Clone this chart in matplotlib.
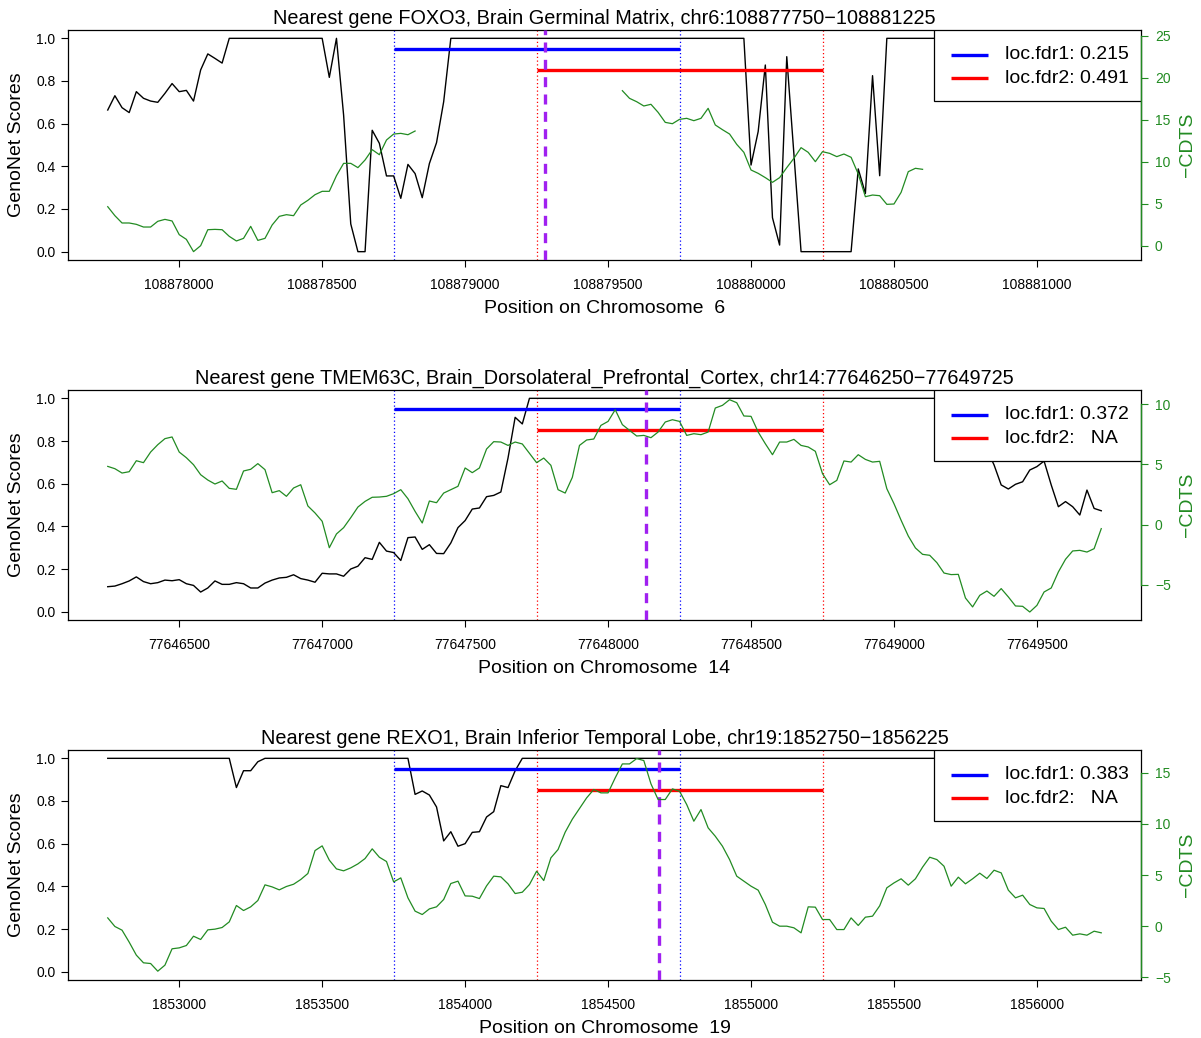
import numpy as np
import matplotlib
matplotlib.use('Agg')
import matplotlib.pyplot as plt
from matplotlib.patches import Rectangle

plt.rcParams['font.family'] = ['Liberation Sans', 'DejaVu Sans']

nan = np.nan
step = 25  # bp between scored positions

# ---- panel 1: FOXO3 ----
foxo3_start = 108877750
foxo3_snp = 108879281
foxo3_fdr = ['0.215', '0.491']
foxo3_geno = [
    0.664, 0.731, 0.675, 0.652, 0.750, 0.719, 0.706, 0.700, 0.742, 0.788,
    0.750, 0.756, 0.706, 0.852, 0.927, 0.906, 0.884, 1.0, 1.0, 1.0,
    1.0, 1.0, 1.0, 1.0, 1.0, 1.0, 1.0, 1.0, 1.0, 1.0,
    1.0, 0.817, 1.0, 0.640, 0.130, 0.0, 0.0, 0.569, 0.508, 0.355,
    0.355, 0.250, 0.409, 0.366, 0.253, 0.413, 0.511, 0.703, 1.0, 1.0,
    1.0, 1.0, 1.0, 1.0, 1.0, 1.0, 1.0, 1.0, 1.0, 1.0,
    1.0, 1.0, 1.0, 1.0, 1.0, 1.0, 1.0, 1.0, 1.0, 1.0,
    1.0, 1.0, 1.0, 1.0, 1.0, 1.0, 1.0, 1.0, 1.0, 1.0,
    1.0, 1.0, 1.0, 1.0, 1.0, 1.0, 1.0, 1.0, 1.0, 1.0,
    0.406, 0.563, 0.875, 0.159, 0.031, 0.914, 0.458, 0.0, 0.0, 0.0,
    0.0, 0.0, 0.0, 0.0, 0.0, 0.388, 0.273, 0.825, 0.356, 1.0,
    1.0, 1.0, 1.0, 1.0, 1.0, 1.0, 1.0, 1.0, 1.0, 1.0,
    1.0, 1.0, 1.0, 1.0, 1.0, 1.0, 1.0, 1.0, 1.0, 1.0,
    1.0, 1.0, 1.0, 1.0, 1.0, 1.0, 1.0, 1.0, 1.0, 1.0,
]
foxo3_cdts = [
    4.64, 3.57, 2.70, 2.70, 2.54, 2.22, 2.22, 2.90, 3.13, 2.94,
    1.31, 0.75, -0.71, 0.00, 1.90, 1.94, 1.90, 1.11, 0.56, 0.87,
    2.30, 0.63, 0.87, 2.46, 3.49, 3.69, 3.57, 4.84, 5.40, 6.07,
    6.47, 6.47, 8.33, 9.80, 9.80, 9.29, 10.20, 11.43, 10.83, 12.58,
    13.29, 13.37, 13.21, 13.65, nan, nan, nan, nan, nan, nan,
    nan, nan, nan, nan, nan, nan, nan, nan, nan, nan,
    nan, nan, nan, nan, nan, nan, nan, nan, nan, nan,
    nan, nan, 18.45, 17.54, 17.14, 16.63, 16.83, 15.87, 14.68, 14.52,
    15.04, 15.16, 14.88, 15.16, 16.35, 14.37, 13.81, 13.29, 12.06, 11.11,
    9.01, 8.61, 8.10, 7.54, 8.10, 9.29, 10.40, 11.67, 11.11, 10.00,
    11.19, 10.99, 10.60, 10.91, 10.52, 8.53, 5.83, 6.03, 5.95, 4.92,
    4.96, 6.35, 8.81, 9.21, 9.09, nan, nan, nan, nan, nan,
    nan, nan, nan, nan, nan, nan, nan, nan, nan, nan,
    nan, nan, nan, nan, nan, nan, nan, nan, nan, nan,
]

# ---- panel 2: TMEM63C ----
tmem_start = 77646250
tmem_snp = 77648134
tmem_fdr = ['0.372', '  NA']
tmem_geno = [
    0.117, 0.120, 0.131, 0.144, 0.163, 0.141, 0.131, 0.136, 0.148, 0.145,
    0.150, 0.131, 0.123, 0.092, 0.111, 0.144, 0.128, 0.128, 0.136, 0.131,
    0.111, 0.111, 0.134, 0.148, 0.158, 0.161, 0.173, 0.155, 0.148, 0.138,
    0.180, 0.177, 0.177, 0.166, 0.200, 0.213, 0.253, 0.245, 0.325, 0.284,
    0.277, 0.240, 0.347, 0.350, 0.292, 0.314, 0.273, 0.272, 0.322, 0.394,
    0.427, 0.481, 0.486, 0.539, 0.545, 0.561, 0.720, 0.911, 0.880, 1.0,
    1.0, 1.0, 1.0, 1.0, 1.0, 1.0, 1.0, 1.0, 1.0, 1.0,
    1.0, 1.0, 1.0, 1.0, 1.0, 1.0, 1.0, 1.0, 1.0, 1.0,
    1.0, 1.0, 1.0, 1.0, 1.0, 1.0, 1.0, 1.0, 1.0, 1.0,
    1.0, 1.0, 1.0, 1.0, 1.0, 1.0, 1.0, 1.0, 1.0, 1.0,
    1.0, 1.0, 1.0, 1.0, 1.0, 1.0, 1.0, 1.0, 1.0, 1.0,
    1.0, 1.0, 1.0, 1.0, 1.0, 1.0, 1.0, 1.0, 1.0, 1.0,
    1.0, 0.93, 0.85, 0.76, 0.688, 0.594, 0.575, 0.597, 0.609, 0.664,
    0.680, 0.706, 0.594, 0.492, 0.516, 0.492, 0.453, 0.570, 0.484, 0.473,
]
tmem_cdts = [
    4.83, 4.64, 4.28, 4.39, 5.30, 5.14, 6.02, 6.63, 7.13, 7.27,
    6.02, 5.55, 4.97, 4.14, 3.70, 3.37, 3.62, 3.01, 2.93, 4.45,
    4.59, 5.06, 4.56, 2.65, 2.82, 2.35, 3.04, 3.31, 1.55, 0.97,
    0.28, -1.91, -0.77, -0.25, 0.58, 1.46, 1.93, 2.27, 2.29, 2.35,
    2.57, 2.90, 2.15, 1.10, 0.14, 1.96, 1.82, 2.62, 2.90, 3.18,
    4.70, 4.31, 4.70, 6.27, 6.88, 6.85, 6.57, 6.85, 6.69, 5.91,
    5.14, 5.52, 4.92, 2.90, 2.62, 3.92, 6.57, 7.02, 7.10, 8.23,
    8.56, 9.53, 8.29, 7.82, 7.35, 7.40, 7.21, 7.68, 8.51, 8.70,
    8.56, 7.40, 7.54, 7.46, 7.68, 9.67, 9.89, 10.36, 10.11, 9.01,
    8.98, 7.68, 6.71, 5.80, 6.85, 6.85, 7.07, 6.57, 6.44, 6.08,
    4.23, 3.31, 3.67, 5.28, 5.19, 5.80, 5.41, 5.19, 5.25, 2.98,
    1.74, 0.36, -0.94, -1.93, -2.46, -2.54, -3.15, -4.01, -4.14, -4.12,
    -6.08, -6.82, -5.86, -5.50, -5.94, -5.30, -5.99, -6.74, -6.77, -7.24,
    -6.69, -5.58, -5.25, -3.92, -2.87, -2.18, -2.13, -2.27, -1.99, -0.33,
]

# ---- panel 3: REXO1 ----
rexo_start = 1852750
rexo_snp = 1854678
rexo_fdr = ['0.383', '  NA']
rexo_geno = [
    1.0, 1.0, 1.0, 1.0, 1.0, 1.0, 1.0, 1.0, 1.0, 1.0,
    1.0, 1.0, 1.0, 1.0, 1.0, 1.0, 1.0, 1.0, 0.863, 0.942,
    0.942, 0.984, 1.0, 1.0, 1.0, 1.0, 1.0, 1.0, 1.0, 1.0,
    1.0, 1.0, 1.0, 1.0, 1.0, 1.0, 1.0, 1.0, 1.0, 1.0,
    1.0, 1.0, 1.0, 0.831, 0.847, 0.828, 0.772, 0.613, 0.656, 0.588,
    0.600, 0.653, 0.656, 0.725, 0.750, 0.872, 0.863, 0.942, 1.0, 1.0,
    1.0, 1.0, 1.0, 1.0, 1.0, 1.0, 1.0, 1.0, 1.0, 1.0,
    1.0, 1.0, 1.0, 1.0, 1.0, 1.0, 1.0, 1.0, 1.0, 1.0,
    1.0, 1.0, 1.0, 1.0, 1.0, 1.0, 1.0, 1.0, 1.0, 1.0,
    1.0, 1.0, 1.0, 1.0, 1.0, 1.0, 1.0, 1.0, 1.0, 1.0,
    1.0, 1.0, 1.0, 1.0, 1.0, 1.0, 1.0, 1.0, 1.0, 1.0,
    1.0, 1.0, 1.0, 1.0, 1.0, 1.0, 1.0, 1.0, 1.0, 1.0,
    1.0, 1.0, 1.0, 1.0, 1.0, 1.0, 1.0, 1.0, 1.0, 1.0,
    1.0, 1.0, 1.0, 1.0, 1.0, 1.0, 1.0, 1.0, 1.0, 1.0,
]
rexo_cdts = [
    0.81, -0.03, -0.39, -1.56, -2.83, -3.58, -3.65, -4.40, -3.81, -2.21,
    -2.12, -1.89, -0.98, -1.30, -0.36, -0.29, -0.13, 0.42, 2.02, 1.53,
    1.89, 2.51, 4.04, 3.84, 3.55, 3.88, 4.10, 4.56, 5.15, 7.39,
    7.85, 6.45, 5.60, 5.41, 5.70, 6.09, 6.61, 7.56, 6.74, 6.32,
    4.33, 4.72, 2.77, 1.47, 1.14, 1.69, 1.89, 2.61, 4.17, 4.40,
    2.96, 2.93, 2.70, 3.94, 4.89, 4.82, 4.14, 3.19, 3.32, 4.07,
    5.37, 4.46, 6.68, 7.49, 9.19, 10.46, 11.50, 12.54, 13.36, 13.03,
    13.03, 14.50, 15.86, 15.86, 16.38, 16.19, 13.91, 12.38, 12.38, 13.42,
    13.19, 11.89, 10.26, 11.40, 9.61, 8.79, 7.82, 6.51, 4.89, 4.40,
    3.91, 3.52, 2.12, 0.39, 0.00, 0.00, -0.16, -0.65, 1.89, 1.86,
    0.65, 0.65, -0.33, -0.33, 0.81, 0.07, 0.88, 0.98, 1.99, 3.75,
    4.23, 4.63, 4.01, 4.63, 5.77, 6.74, 6.51, 5.86, 3.91, 4.79,
    4.14, 4.63, 5.18, 4.66, 5.47, 5.21, 3.52, 2.77, 3.03, 2.12,
    1.79, 1.73, 0.49, -0.33, -0.10, -0.88, -0.75, -0.88, -0.49, -0.65,
]

panels = [
    ('FOXO3', 'Brain Germinal Matrix', '6', foxo3_start, foxo3_snp,
     foxo3_fdr, foxo3_geno, foxo3_cdts, (-1.73, 25.7), [0, 5, 10, 15, 20, 25]),
    ('TMEM63C', 'Brain_Dorsolateral_Prefrontal_Cortex', '14', tmem_start, tmem_snp,
     tmem_fdr, tmem_geno, tmem_cdts, (-7.92, 11.18), [-5, 0, 5, 10]),
    ('REXO1', 'Brain Inferior Temporal Lobe', '19', rexo_start, rexo_snp,
     rexo_fdr, rexo_geno, rexo_cdts, (-5.28, 17.24), [-5, 0, 5, 10, 15]),
]

green = '#228B22'
W, H = 1201, 1038
fig = plt.figure(figsize=(W / 100, H / 100), dpi=100)

ax_left, ax_w, ax_h = 68 / W, 1073 / W, 230.4 / H
bottoms = [1 - 260.2 / H, 1 - 620.2 / H, 1 - 980.2 / H]

for (gene, tissue, chrom, start, snp, fdr, geno, cdts, cdts_lim, cdts_ticks), b in zip(panels, bottoms):
    pos = start + step * np.arange(len(geno))
    end = pos[-1]
    span = end - start
    ax = fig.add_axes([ax_left, b, ax_w, ax_h])
    ax.plot(pos, geno, color='black', lw=1.0, zorder=2)
    ax.set_xlim(start - 0.04 * span, end + 0.04 * span)
    ax.set_ylim(-0.04, 1.04)

    # window markers
    w1 = (start + 1000, start + 2000)
    w2 = (start + 1500, start + 2500)
    for x in w1:
        ax.axvline(x, color='blue', lw=0.9, ls=(0, (1, 2)), zorder=1)
    for x in w2:
        ax.axvline(x, color='red', lw=0.9, ls=(0, (1, 2)), zorder=1)
    ax.plot(w1, [0.95, 0.95], color='blue', lw=2.4, solid_capstyle='butt', zorder=3)
    ax.plot(w2, [0.85, 0.85], color='red', lw=2.4, solid_capstyle='butt', zorder=3)
    ax.axvline(snp, color='#A020F0', lw=2.4, ls=(0, (3, 2.2)), zorder=3)

    ax.set_xticks(np.arange(np.ceil(start / 500) * 500, end + 1, 500))
    ax.set_xticklabels([f'{int(t)}' for t in ax.get_xticks()])
    ax.set_yticks([0, 0.2, 0.4, 0.6, 0.8, 1.0])
    ax.set_yticklabels(['0.0', '0.2', '0.4', '0.6', '0.8', '1.0'])
    ax.tick_params(axis='x', direction='out', length=5, width=0.8, labelsize=10, pad=8)
    ax.tick_params(axis='y', direction='out', length=5, width=0.8, labelsize=10, pad=4)
    for s in ax.spines.values():
        s.set_linewidth(0.9)
    ax.set_xlabel(f'Position on Chromosome  {chrom}', fontsize=14, labelpad=5.5)
    ax.set_ylabel('GenoNet Scores', fontsize=14, labelpad=8)
    ax.set_title(f'Nearest gene {gene}, {tissue}, chr{chrom}:{start}\u2212{end}',
                 fontsize=14.3, pad=4)

    # legend box in the top right corner
    ax.add_patch(Rectangle((0.807, 0.691), 0.193, 0.309, transform=ax.transAxes,
                           facecolor='white', edgecolor='black', lw=0.9, zorder=5))
    for yy, c, lab in [(0.891, 'blue', 'loc.fdr1: ' + fdr[0]),
                       (0.789, 'red', 'loc.fdr2: ' + fdr[1])]:
        ax.plot([0.823, 0.857], [yy, yy], transform=ax.transAxes, color=c,
                lw=2.4, solid_capstyle='butt', zorder=6)
        ax.text(0.873, yy, lab, transform=ax.transAxes, va='center', ha='left',
                fontsize=14, zorder=6)

    ax2 = ax.twinx()
    ax2.plot(pos, cdts, color=green, lw=0.9)
    ax2.set_ylim(*cdts_lim)
    ax2.set_yticks(cdts_ticks)
    ax2.set_yticklabels([f'{t}'.replace('-', '\u2212') for t in cdts_ticks])
    ax2.tick_params(axis='y', direction='out', length=5, width=0.8, labelsize=10,
                    pad=5, colors=green)
    ax2.spines['right'].set_color(green)
    ax2.spines['right'].set_bounds(cdts_ticks[0], cdts_ticks[-1])
    ax2.spines['right'].set_linewidth(1.0)
    for k in ['top', 'left', 'bottom']:
        ax2.spines[k].set_visible(False)
    ax2.set_ylabel('\u2212CDTS', color=green, fontsize=14, labelpad=6)

fig.savefig('out.png', dpi=100)
